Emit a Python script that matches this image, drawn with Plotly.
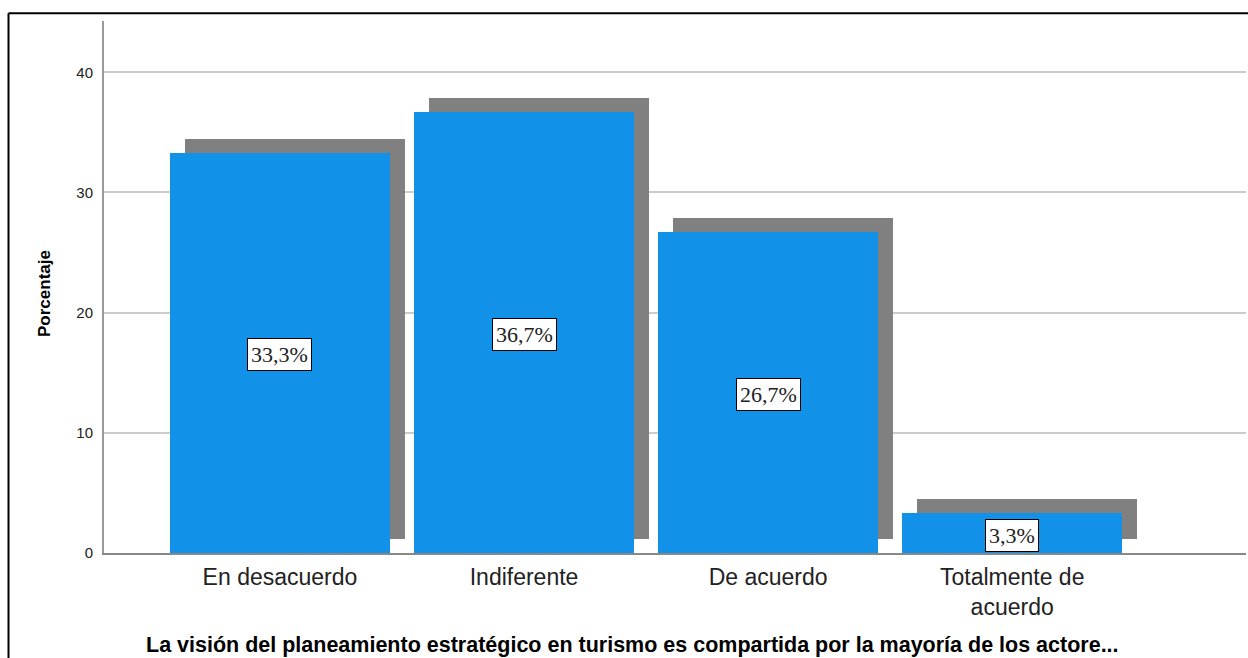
import plotly.graph_objects as go

categories = ["En desacuerdo", "Indiferente", "De acuerdo", "Totalmente de<br>acuerdo"]
percentages = [33.3, 36.7, 26.7, 3.3]
label_texts = ["33,3%", "36,7%", "26,7%", "3,3%"]
y_ticks = [0, 10, 20, 30, 40]
x_title = "La visión del planeamiento estratégico en turismo es compartida por la mayoría de los actore..."
y_title = "Porcentaje"

W, H = 1248, 658
L, R, T, B = 104, 2, 21, 105
plot_w = W - L - R
plot_h = H - T - B
y_max = 44.27
x_lo, x_hi = -0.721, 3.958

px_per_x = plot_w / (x_hi - x_lo)
px_per_y = plot_h / y_max
shadow_dx = 15 / px_per_x
shadow_dy = 14 / px_per_y
bar_w = 0.901

xs = list(range(len(categories)))

fig = go.Figure()
fig.add_trace(go.Bar(
    x=[x + shadow_dx for x in xs], y=percentages, base=[shadow_dy] * len(xs),
    width=bar_w, marker=dict(color="#808080", line=dict(width=0)),
    hoverinfo="skip", showlegend=False))
fig.add_trace(go.Bar(
    x=xs, y=percentages, width=bar_w,
    marker=dict(color="#1192E8", line=dict(width=0)),
    showlegend=False))

for x, v, t in zip(xs, percentages, label_texts):
    fig.add_annotation(x=x, y=v / 2, xref="x", yref="y", text=t, showarrow=False,
                       font=dict(family="Liberation Serif", size=22, color="#222222"),
                       bgcolor="white", bordercolor="#000000", borderwidth=1, borderpad=3,
                       yshift=-2)

def px_x(p):
    return (p - L) / plot_w

def px_y(p):
    return (T + plot_h - p) / plot_h

fig.add_annotation(x=px_x(632.5), y=px_y(645), xref="paper", yref="paper", text="<b>" + x_title + "</b>",
                   showarrow=False, font=dict(family="Liberation Sans", size=21.5, color="#000000"),
                   xanchor="center", yanchor="middle")
fig.add_annotation(x=px_x(44.5), y=px_y(293.5), xref="paper", yref="paper", text="<b>" + y_title + "</b>",
                   showarrow=False, textangle=-90,
                   font=dict(family="Liberation Sans", size=17, color="#000000"),
                   xanchor="center", yanchor="middle")

# outer frame
fig.add_shape(type="line", xref="paper", yref="paper", x0=px_x(8.5), x1=px_x(1260),
              y0=px_y(13.3), y1=px_y(13.3), line=dict(color="#000000", width=2))
fig.add_shape(type="line", xref="paper", yref="paper", x0=px_x(8.5), x1=px_x(8.5),
              y0=px_y(13.3), y1=px_y(700), line=dict(color="#000000", width=2))

fig.update_layout(
    width=W, height=H, autosize=False,
    margin=dict(l=L, r=R, t=T, b=B, pad=0),
    paper_bgcolor="white", plot_bgcolor="white",
    barmode="overlay", bargap=0,
    font=dict(family="Liberation Sans", color="#222222"),
)
fig.update_xaxes(range=[x_lo, x_hi], tickvals=xs, ticktext=categories,
                 showgrid=False, zeroline=False, showline=True, linecolor="#888888", linewidth=1.5,
                 ticks="", ticklabelstandoff=3, tickfont=dict(size=23, color="#222222"), fixedrange=True)
fig.update_yaxes(range=[0, y_max], tickvals=y_ticks, showgrid=True, gridcolor="#cccccc", gridwidth=1.5,
                 zeroline=False, showline=True, linecolor="#999999", linewidth=2,
                 ticks="", ticklabelstandoff=6, tickfont=dict(size=15, color="#222222"), fixedrange=True)

fig.write_html("out.html", config={"displayModeBar": False},
               post_script="document.body.style.margin='0';document.body.style.overflow='hidden';")
